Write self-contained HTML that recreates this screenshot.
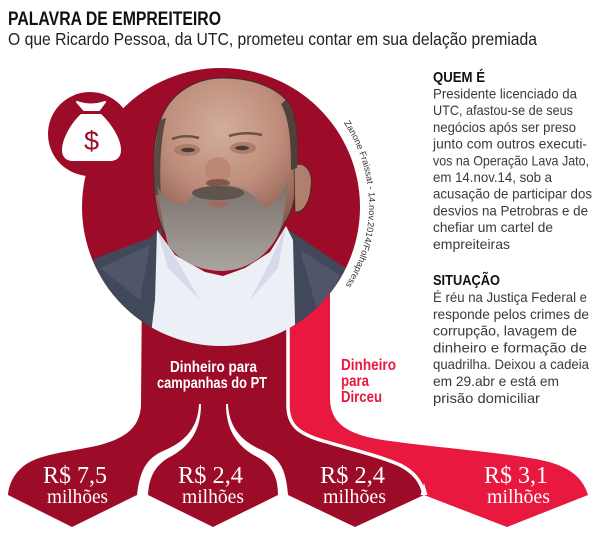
<!DOCTYPE html>
<html>
<head>
<meta charset="utf-8">
<style>
  html,body{margin:0;padding:0;background:#fff;}
  svg{display:block;}
  .sans{font-family:"Liberation Sans",sans-serif;}
  .serif{font-family:"Liberation Serif",serif;}
</style>
</head>
<body>
<svg width="600" height="534" viewBox="0 0 600 534" xmlns="http://www.w3.org/2000/svg">
  <defs>
    <clipPath id="cc"><circle cx="221" cy="207" r="139"/></clipPath>
    <radialGradient id="skin" cx="222" cy="130" r="105" gradientUnits="userSpaceOnUse">
      <stop offset="0" stop-color="#d2ae9a"/>
      <stop offset="0.55" stop-color="#bf8d7c"/>
      <stop offset="1" stop-color="#8c5e50"/>
    </radialGradient>
    <linearGradient id="beard" x1="0" y1="180" x2="0" y2="272" gradientUnits="userSpaceOnUse">
      <stop offset="0" stop-color="#7a706a"/>
      <stop offset="1" stop-color="#aaa5a0"/>
    </linearGradient>
    <path id="arc" d="M 342.6,121.2 A 148 148 0 0 1 339.7,294.0"/>
  </defs>
  <rect width="600" height="534" fill="#fff"/>

  <!-- Title -->
  <text class="sans" x="8" y="25" font-size="19" font-weight="bold" fill="#111" textLength="213" lengthAdjust="spacingAndGlyphs">PALAVRA DE EMPREITEIRO</text>
  <text class="sans" x="8" y="45" font-size="17.5" fill="#222" textLength="529" lengthAdjust="spacingAndGlyphs">O que Ricardo Pessoa, da UTC, prometeu contar em sua delação premiada</text>

  <!-- bright red ribbon -->
  <path fill="#e8183f" d="M288,280 L288,405 C288,425 298,433 320,440 C350,449 380,456 400,465 C414,472 422,482 424,495 L507,527 L588,495 C583,478 570,467 545,461 C510,453 440,448 390,441 C350,436 331,425 330,400 L330,280 Z"/>
  <!-- dark red trunk -->
  <path fill="#9c0b27" d="M142,280 L141,405 C140,428 125,438 100,445 C75,451 45,453 28,463 C15,471 9,483 8,495 L72,527 L137,495 L148,495 L213,527 L278,495 L288,495 L355,527 L424,495 C422,482 414,472 400,465 C380,456 350,449 320,440 C298,433 288,425 288,405 L288,280 Z"/>
  <!-- white separators -->
  <path fill="none" stroke="#fff" stroke-width="3.5" d="M288,300 L288,405 C288,425 298,433 320,440 C350,449 380,456 400,465 C414,472 422,482 424,495"/>
  <path fill="#fff" d="M420.5,495 L427.5,495 L424,483 Z"/>
  <path fill="#fff" d="M199,404 C198,428 185,442 163,451 C148,458 140,468 137,495 L148,495 C149,477 155,466 168,458 C190,447 201,430 201,404 Z"/>
  <path fill="#fff" d="M228,404 C229,428 242,442 264,451 C279,458 286,468 288,495 L278,495 C278,477 272,466 259,458 C237,447 226,430 226,404 Z"/>

  <!-- icon circle + main circle -->
  <circle cx="90" cy="134" r="42" fill="#9c0b27"/>
  <circle cx="221" cy="207" r="139" fill="#9c0b27"/>

  <!-- money bag -->
  <path fill="#fff" stroke="#fff" stroke-width="2" stroke-linejoin="round" d="M77,102 Q91,107 105,102 L99,110 L84,110 Z"/>
  <path fill="#fff" d="M81,114 L101,114 C110,122 121,138 121,150 C121,157 117,161 110,161 L73,161 C66,161 62,157 62,150 C62,138 72,122 81,114 Z"/>
  <text class="sans" x="91.5" y="150" font-size="27" text-anchor="middle" fill="#9c0b27">$</text>

  <!-- photo -->
  <g clip-path="url(#cc)">
    <!-- jacket -->
    <path fill="#41485a" d="M162,226 L150,238 L85,262 L78,360 L152,360 L157,300 Z"/>
    <path fill="#41485a" d="M283,226 L345,268 L370,300 L360,360 L293,360 L292,240 Z"/>
    <path fill="#5a6175" d="M100,268 L150,245 L140,300 Z" opacity="0.6"/>
    <path fill="#5a6175" d="M300,250 L340,275 L320,320 Z" opacity="0.6"/>
    <!-- shirt -->
    <path fill="#eceff6" d="M157,230 L175,255 L205,272 L223,276 L245,268 L270,252 L286,226 L293,240 L296,360 L148,360 L155,300 Z"/>
    <path fill="#cfd6e6" d="M157,230 L178,262 L200,300 L168,268 Z" opacity="0.8"/>
    <path fill="#cfd6e6" d="M286,226 L270,262 L250,300 L278,268 Z" opacity="0.8"/>
    <!-- head -->
    <path fill="url(#skin)" stroke="#3b302c" stroke-width="1" d="M223,78 C250,78 275,86 288,102 C296,114 298,135 297,160 L296,175 C296,200 292,212 285,222 C275,245 250,268 223,270 C196,268 172,250 162,228 C156,212 154,195 154,175 C153,150 155,128 165,110 C176,90 198,78 223,78 Z"/>
    <!-- ear -->
    <path fill="#b0806f" stroke="#3b302c" stroke-width="0.8" d="M294,166 C303,160 313,170 311,186 C310,201 304,213 295,212 Z"/>
    <!-- hair -->
    <path fill="#4f4039" d="M286,100 C295,112 299,135 297,168 L291,170 C291,140 289,118 281,104 Z"/>
    <path fill="#5a4a42" d="M160,120 C155,140 153,165 155,195 L161,195 C159,165 161,140 166,118 Z"/>
    <!-- eye sockets, eyes, brows -->
    <ellipse cx="187" cy="150" rx="13" ry="6" fill="#a77665" opacity="0.8"/>
    <ellipse cx="243" cy="148" rx="13" ry="6" fill="#a77665" opacity="0.8"/>
    <ellipse cx="188" cy="150" rx="7" ry="2.2" fill="#4a3a35"/>
    <ellipse cx="242" cy="148" rx="7" ry="2.2" fill="#4a3a35"/>
    <path fill="none" stroke="#6b5148" stroke-width="2.5" d="M172,139 Q185,134 199,138"/>
    <path fill="none" stroke="#6b5148" stroke-width="2.5" d="M229,136 Q245,131 262,135"/>
    <!-- nose -->
    <ellipse cx="218" cy="170" rx="13" ry="13" fill="#bd8775"/>
    <ellipse cx="218" cy="183" rx="12" ry="4" fill="#83564a"/>
    <!-- beard -->
    <path fill="url(#beard)" d="M157,185 C160,205 163,225 168,245 C180,262 200,271 223,271 C248,270 268,255 278,235 C284,220 286,200 288,180 C282,195 275,205 265,208 C255,195 245,187 225,185 C205,186 195,192 185,205 C172,205 162,198 157,185 Z"/>
    <ellipse cx="218" cy="193" rx="26" ry="7" fill="#5e534d"/>
    <ellipse cx="218" cy="204" rx="10" ry="3.5" fill="#a06a60"/>
  </g>

  <!-- photo credit along arc -->
  <text class="sans" font-size="9" fill="#333"><textPath href="#arc" startOffset="2" textLength="172" lengthAdjust="spacingAndGlyphs">Zanone Fraissat - 14.nov.2014/Folhapress</textPath></text>

  <!-- flow labels -->
  <text class="sans" x="170" y="372" font-size="16" font-weight="bold" fill="#fff" textLength="87" lengthAdjust="spacingAndGlyphs">Dinheiro para</text>
  <text class="sans" x="157" y="388" font-size="16" font-weight="bold" fill="#fff" textLength="110" lengthAdjust="spacingAndGlyphs">campanhas do PT</text>

  <text class="sans" x="341" y="370" font-size="15.5" font-weight="bold" fill="#e8183f" textLength="55" lengthAdjust="spacingAndGlyphs">Dinheiro</text>
  <text class="sans" x="341" y="386" font-size="15.5" font-weight="bold" fill="#e8183f" textLength="28" lengthAdjust="spacingAndGlyphs">para</text>
  <text class="sans" x="341" y="402" font-size="15.5" font-weight="bold" fill="#e8183f" textLength="41" lengthAdjust="spacingAndGlyphs">Dirceu</text>

  <!-- amounts -->
  <g class="serif" fill="#fff">
    <text x="43" y="483" font-size="24" textLength="64" lengthAdjust="spacingAndGlyphs">R$ 7,5</text>
    <text x="47" y="503" font-size="20" textLength="61" lengthAdjust="spacingAndGlyphs">milhões</text>
    <text x="178" y="483" font-size="24" textLength="65" lengthAdjust="spacingAndGlyphs">R$ 2,4</text>
    <text x="182" y="503" font-size="20" textLength="62" lengthAdjust="spacingAndGlyphs">milhões</text>
    <text x="320" y="483" font-size="24" textLength="65" lengthAdjust="spacingAndGlyphs">R$ 2,4</text>
    <text x="323" y="503" font-size="20" textLength="63" lengthAdjust="spacingAndGlyphs">milhões</text>
    <text x="484" y="483" font-size="24" textLength="64" lengthAdjust="spacingAndGlyphs">R$ 3,1</text>
    <text x="487" y="503" font-size="20" textLength="63" lengthAdjust="spacingAndGlyphs">milhões</text>
  </g>

  <!-- right column -->
  <g class="sans">
    <text x="433" y="82" font-size="15" font-weight="bold" fill="#111" textLength="52" lengthAdjust="spacingAndGlyphs">QUEM É</text>
    <g font-size="14" fill="#3a3a3a">
      <text x="433" y="98.5" textLength="144" lengthAdjust="spacingAndGlyphs">Presidente licenciado da</text>
      <text x="433" y="115.2" textLength="140" lengthAdjust="spacingAndGlyphs">UTC, afastou-se de seus</text>
      <text x="433" y="131.9" textLength="143" lengthAdjust="spacingAndGlyphs">negócios após ser preso</text>
      <text x="433" y="148.6" textLength="154" lengthAdjust="spacingAndGlyphs">junto com outros executi-</text>
      <text x="433" y="165.3" textLength="156" lengthAdjust="spacingAndGlyphs">vos na Operação Lava Jato,</text>
      <text x="433" y="182" textLength="119" lengthAdjust="spacingAndGlyphs">em 14.nov.14, sob a</text>
      <text x="433" y="198.7" textLength="159" lengthAdjust="spacingAndGlyphs">acusação de participar dos</text>
      <text x="433" y="215.4" textLength="155" lengthAdjust="spacingAndGlyphs">desvios na Petrobras e de</text>
      <text x="433" y="232.1" textLength="120" lengthAdjust="spacingAndGlyphs">chefiar um cartel de</text>
      <text x="433" y="248.8" textLength="77" lengthAdjust="spacingAndGlyphs">empreiteiras</text>
    </g>
    <text x="433" y="285" font-size="15" font-weight="bold" fill="#111" textLength="67" lengthAdjust="spacingAndGlyphs">SITUAÇÃO</text>
    <g font-size="14" fill="#3a3a3a">
      <text x="433" y="302" textLength="154" lengthAdjust="spacingAndGlyphs">É réu na Justiça Federal e</text>
      <text x="433" y="318.8" textLength="156" lengthAdjust="spacingAndGlyphs">responde pelos crimes de</text>
      <text x="433" y="335.6" textLength="144" lengthAdjust="spacingAndGlyphs">corrupção, lavagem de</text>
      <text x="433" y="352.4" textLength="154" lengthAdjust="spacingAndGlyphs">dinheiro e formação de</text>
      <text x="433" y="369.2" textLength="156" lengthAdjust="spacingAndGlyphs">quadrilha. Deixou a cadeia</text>
      <text x="433" y="386" textLength="126" lengthAdjust="spacingAndGlyphs">em 29.abr e está em</text>
      <text x="433" y="402.8" textLength="107" lengthAdjust="spacingAndGlyphs">prisão domiciliar</text>
    </g>
  </g>
</svg>
</body>
</html>
